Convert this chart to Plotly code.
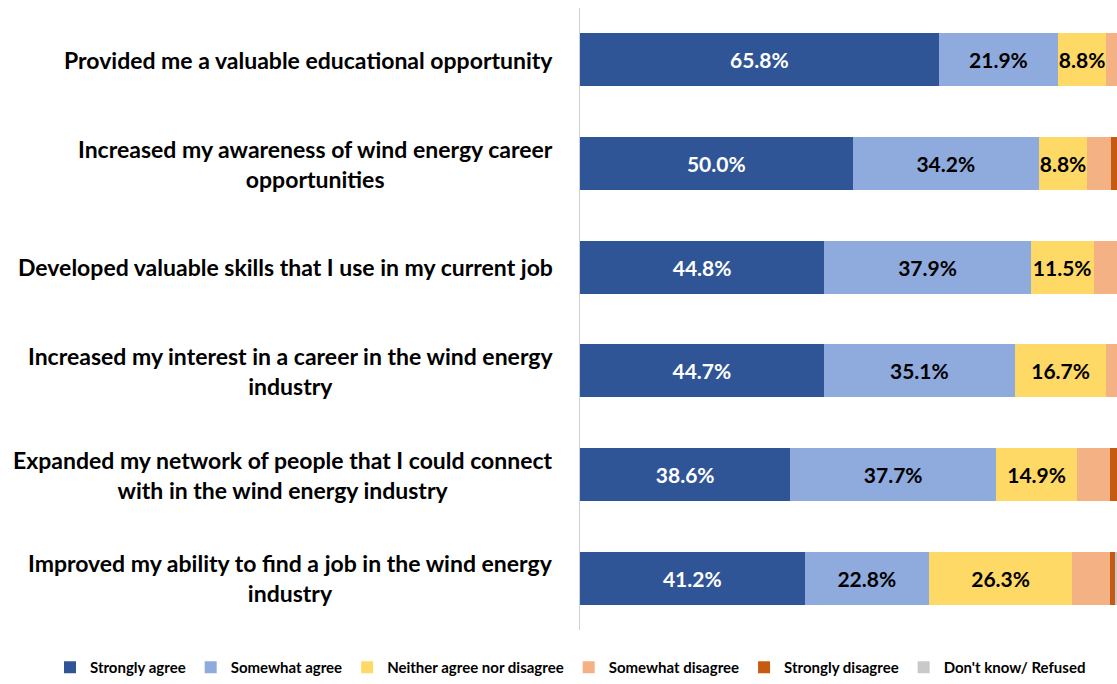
import plotly.graph_objects as go

categories = [
    "Provided me a valuable educational opportunity",
    "Increased my awareness of wind energy career<br>opportunities",
    "Developed valuable skills that I use in my current job",
    "Increased my interest in a career in the wind energy<br>industry",
    "Expanded my network of people that I could connect<br>with in the wind energy industry",
    "Improved my ability to find a job in the wind energy<br>industry",
]

series_names = [
    "Strongly agree",
    "Somewhat agree",
    "Neither agree nor disagree",
    "Somewhat disagree",
    "Strongly disagree",
    "Don't know/ Refused",
]

strongly_agree = [65.8, 50.0, 44.8, 44.7, 38.6, 41.2]
somewhat_agree = [21.9, 34.2, 37.9, 35.1, 37.7, 22.8]
neither = [8.8, 8.8, 11.5, 16.7, 14.9, 26.3]
somewhat_disagree = [3.5, 4.4, 5.7, 3.5, 6.1, 7.0]
strongly_disagree = [0.0, 2.6, 0.0, 0.0, 2.6, 0.9]
dont_know = [0.0, 0.0, 0.0, 0.0, 0.0, 1.8]

values = [strongly_agree, somewhat_agree, neither,
          somewhat_disagree, strongly_disagree, dont_know]
colors = ["#2F5597", "#8FAADC", "#FFD966", "#F4B183", "#C55A11", "#C9C9C9"]
label_colors = ["white", "black", "black", None, None, None]

FONT = "Lato"

fig = go.Figure()
for name, vals, color, lc in zip(series_names, values, colors, label_colors):
    kw = {}
    if lc:
        kw = dict(
            text=[f"{v:.1f}%" for v in vals],
            textposition="inside",
            insidetextanchor="middle",
            textangle=0,
            textfont=dict(family=FONT, size=21, color=lc, weight="bold"),
            constraintext="none",
        )
    fig.add_trace(go.Bar(
        name=name,
        y=categories,
        x=vals,
        orientation="h",
        marker=dict(color=color, line=dict(width=0)),
        hoverinfo="x+name",
        **kw,
    ))

# category labels, centred line by line and right-aligned against the axis
for cat in categories:
    fig.add_annotation(
        x=0, xref="paper", y=cat, yref="y",
        text=cat, showarrow=False,
        xanchor="right", yanchor="middle", align="center",
        xshift=-25,
        font=dict(family=FONT, size=23, color="black", weight="bold"),
    )

fig.update_layout(
    barmode="stack",
    bargap=0.49,
    width=1117,
    height=684,
    margin=dict(l=580, r=0, t=8, b=52),
    paper_bgcolor="white",
    plot_bgcolor="white",
    showlegend=True,
    legend=dict(
        orientation="h",
        x=-0.987, xref="paper", xanchor="left",
        y=-0.034, yref="paper", yanchor="top",
        font=dict(family=FONT, size=15, color="black", weight="bold"),
        traceorder="normal",
        itemwidth=30,
        tracegroupgap=0,
    ),
    xaxis=dict(
        range=[0, 98.5],
        showgrid=False,
        showticklabels=False,
        zeroline=False,
        showline=False,
        ticks="",
    ),
    yaxis=dict(
        autorange="reversed",
        showticklabels=False,
        showgrid=False,
        zeroline=False,
        showline=True,
        linecolor="#D0D0D0",
        linewidth=1,
        ticks="",
    ),
)

fig.write_html("out.html")
